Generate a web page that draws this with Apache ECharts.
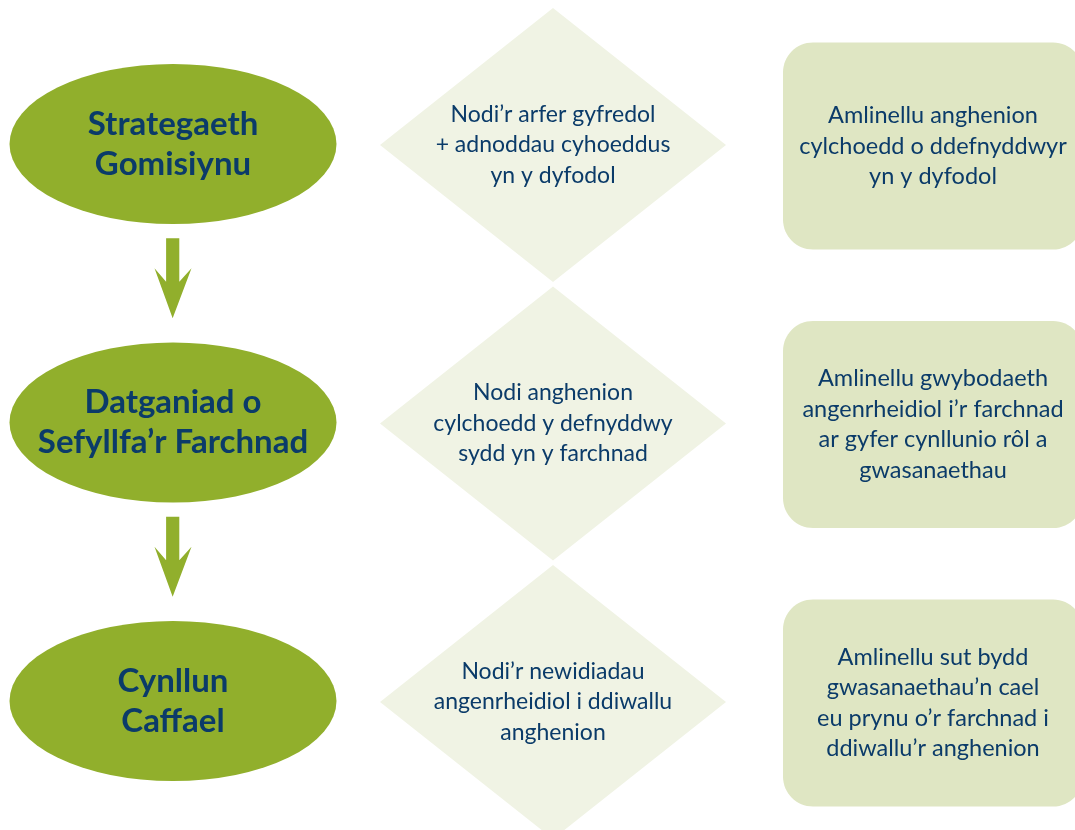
<!DOCTYPE html>
<html>
<head>
<meta charset="utf-8">
<title>Strategaeth Gomisiynu</title>
<script src="https://cdn.jsdelivr.net/npm/echarts@6/dist/echarts.min.js"></script>
<style>
    html, body { margin: 0; padding: 0; background: #ffffff; }
    #flow-chart { width: 1075px; height: 830px; }
</style>
</head>
<body>
<div id="flow-chart"></div>
<script>
// camau chwith (hirgylch), canol (diemwnt), de (petryal)
var stages = ['Strategaeth\nGomisiynu', 'Datganiad o\nSefyllfa\u2019r Farchnad', 'Cynllun\nCaffael'];
var actions = [
    'Nodi\u2019r arfer gyfredol\n+ adnoddau cyhoeddus\nyn y dyfodol',
    'Nodi anghenion\ncylchoedd y defnyddwy\nsydd yn y farchnad',
    'Nodi\u2019r newidiadau\nangenrheidiol i ddiwallu\nanghenion'
];
var outcomes = [
    'Amlinellu anghenion\ncylchoedd o ddefnyddwyr\nyn y dyfodol',
    'Amlinellu gwybodaeth\nangenrheidiol i\u2019r farchnad\nar gyfer cynllunio r\u00f4l a\ngwasanaethau',
    'Amlinellu sut bydd\ngwasanaethau\u2019n cael\neu prynu o\u2019r farchnad i\nddiwallu\u2019r anghenion'
];
var columns = ['stage', 'action', 'outcome'];

var FLOW = {
    CHART_ID: 'flow-chart',
    TEXT_COLOR: '#0b3b69',
    // picsel: canol colofn 0 / rhes 0 a'r bwlch rhyngddynt
    X0: 173, X_STEP: 380,
    Y0: 144, Y_STEP: 278.5,
    WIDTH: 1075, HEIGHT: 830,
    ROUND_RECT: 'path://M30,0H270C286.6,0 300,13.4 300,30V177C300,193.6 286.6,207 270,207H30C13.4,207 0,193.6 0,177V30C0,13.4 13.4,0 30,0Z',
    ARROW: 'path://M11.7,0H25V43.4L37.3,30L18.3,80L0,30L11.7,43.4Z',
    ini: function () {
        var chart = echarts.init(document.getElementById(this.CHART_ID), null, {renderer: 'canvas'});
        chart.setOption(this.option());
    },
    toItems: function (list, col) {
        var items = [];
        for (var i = 0; i < list.length; i++) {
            items.push({name: list[i], value: [col, i]});
        }
        return items;
    },
    toArrows: function () {
        var items = [];
        for (var i = 0; i < stages.length - 1; i++) {
            items.push({name: '', value: [0, i + 0.5]});
        }
        return items;
    },
    label: function (size, lineHeight, weight) {
        return {
            show: true,
            position: 'inside',
            formatter: '{b}',
            color: this.TEXT_COLOR,
            fontFamily: 'Lato',
            fontSize: size,
            fontWeight: weight,
            lineHeight: lineHeight,
            align: 'center'
        };
    },
    option: function () {
        var me = this;
        return {
            animation: false,
            grid: {left: 0, right: 0, top: 0, bottom: 0},
            xAxis: {
                type: 'value',
                show: false,
                min: -me.X0 / me.X_STEP,
                max: (me.WIDTH - me.X0) / me.X_STEP
            },
            yAxis: {
                type: 'value',
                show: false,
                inverse: true,
                min: -me.Y0 / me.Y_STEP,
                max: (me.HEIGHT - me.Y0) / me.Y_STEP
            },
            series: [
                {
                    name: columns[1],
                    type: 'scatter',
                    silent: true,
                    symbol: 'diamond',
                    symbolSize: [346, 274],
                    symbolOffset: [0, 1],
                    itemStyle: {color: '#f0f3e4', opacity: 1},
                    label: me.label(23, 30.5, 'normal'),
                    data: me.toItems(actions, 1)
                },
                {
                    name: columns[2],
                    type: 'scatter',
                    silent: true,
                    symbol: me.ROUND_RECT,
                    symbolSize: [300, 207],
                    symbolOffset: [0, 2],
                    itemStyle: {color: '#dfe6c3', opacity: 1},
                    label: me.label(23.5, 30.5, 'normal'),
                    data: me.toItems(outcomes, 2)
                },
                {
                    name: columns[0],
                    type: 'scatter',
                    silent: true,
                    symbol: 'circle',
                    symbolSize: [327, 160],
                    itemStyle: {color: '#91af2c', opacity: 1},
                    label: me.label(33, 40, 'bold'),
                    data: me.toItems(stages, 0)
                },
                {
                    name: 'arrow',
                    type: 'scatter',
                    silent: true,
                    symbol: me.ARROW,
                    symbolSize: [37, 80],
                    symbolOffset: [0, -5],
                    itemStyle: {color: '#91af2c', opacity: 1},
                    data: me.toArrows()
                }
            ]
        };
    }
};

FLOW.ini();
</script>
</body>
</html>
